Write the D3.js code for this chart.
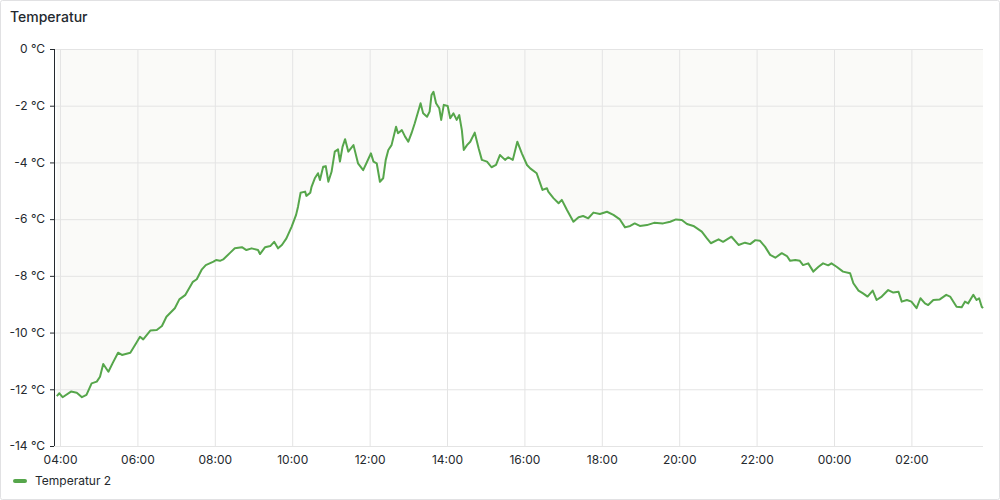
<!DOCTYPE html>
<html>
<head>
<meta charset="utf-8">
<script src="https://cdn.jsdelivr.net/npm/d3@7"></script>
<style>
  html, body { margin: 0; padding: 0; background: #fff; }
  svg { display: block; font-family: Inter, "Noto Sans", sans-serif; }
</style>
</head>
<body>
<svg id="chart" width="1000" height="500"></svg>
<script>
const title = "Temperatur";
const seriesName = "Temperatur 2";
const yTicks = [0, -2, -4, -6, -8, -10, -12, -14];
const xTickLabels = ["04:00","06:00","08:00","10:00","12:00","14:00","16:00","18:00","20:00","22:00","00:00","02:00"];
const times = [
 "03:55","03:59","04:04","04:17","04:26","04:34","04:41","04:49","04:57","05:02","05:07","05:15","05:22","05:30","05:36","05:49","05:58",
 "06:04","06:09","06:20","06:30","06:38","06:45","06:58","07:05","07:14","07:26","07:32","07:40","07:46","07:58","08:02","08:08",
 "08:13","08:24","08:31","08:42","08:49","08:57","09:07","09:10","09:18","09:26","09:32","09:38","09:44","09:51","09:59",
 "10:06","10:09","10:13","10:20","10:22","10:28","10:30","10:35","10:40","10:43","10:48","10:52","10:56","11:01","11:06","11:11","11:14","11:18","11:22","11:27","11:35","11:42","11:50","11:55",
 "12:02","12:06","12:11","12:16","12:21","12:25","12:29","12:34","12:41","12:44","12:50","12:55","13:00","13:05","13:10","13:16","13:19","13:23","13:29","13:33","13:36","13:39","13:43","13:48","13:51","13:55",
 "14:01","14:05","14:10","14:15","14:19","14:23","14:26","14:31","14:36","14:43","14:49","14:54","15:02","15:09","15:16","15:22","15:30","15:35","15:42","15:49","15:56",
 "16:04","16:09","16:19","16:28","16:35","16:37","16:45","16:53","16:58","17:06","17:16","17:24","17:31","17:39","17:47","17:57",
 "18:08","18:18","18:28","18:36","18:44","18:51","18:59","19:10","19:21","19:35","19:46","19:55","20:04","20:12","20:22","20:35","20:43","20:49",
 "21:01","21:08","21:21","21:32","21:42","21:50","21:58","22:05","22:13","22:21","22:29","22:39","22:47","22:52","23:00","23:07","23:12","23:20","23:28","23:36","23:43","23:51","23:56",
 "00:04","00:14","00:25","00:30","00:38","00:45","00:52","01:00","01:06","01:14","01:24","01:32","01:40","01:45","01:53","02:00","02:08","02:14","02:21","02:26","02:34","02:44","02:54",
 "03:00","03:10","03:18","03:23","03:28","03:36","03:41","03:45","03:49","03:51"
];
const temps = [
 -12.24,-12.14,-12.28,-12.08,-12.12,-12.28,-12.20,-11.79,-11.73,-11.56,-11.11,-11.38,-11.06,-10.71,-10.79,-10.71,-10.38,
 -10.15,-10.24,-9.93,-9.91,-9.77,-9.44,-9.14,-8.83,-8.68,-8.21,-8.12,-7.77,-7.62,-7.50,-7.44,-7.47,
 -7.42,-7.18,-7.03,-6.99,-7.09,-7.03,-7.09,-7.23,-6.99,-6.95,-6.80,-7.03,-6.91,-6.68,-6.27,
 -5.85,-5.56,-5.07,-5.03,-5.18,-5.07,-4.86,-4.56,-4.38,-4.62,-4.15,-4.13,-4.68,-4.33,-3.62,-3.54,-3.97,-3.45,-3.18,-3.62,-3.39,-4.03,-4.27,-4.03,
 -3.68,-3.97,-4.03,-4.68,-4.56,-3.91,-3.56,-3.39,-2.74,-2.97,-2.86,-3.09,-3.27,-2.97,-2.62,-2.15,-1.91,-2.27,-2.39,-2.21,-1.62,-1.51,-1.91,-2.09,-2.50,-1.97,
 -2.01,-2.44,-2.27,-2.50,-2.33,-2.86,-3.56,-3.39,-3.27,-2.95,-3.50,-3.91,-3.97,-4.17,-4.09,-3.74,-3.91,-3.82,-3.91,-3.27,-3.68,
 -4.09,-4.21,-4.38,-4.97,-4.91,-5.03,-5.26,-5.44,-5.32,-5.68,-6.09,-5.93,-5.89,-5.97,-5.77,-5.82,
 -5.74,-5.85,-6.01,-6.29,-6.24,-6.15,-6.24,-6.21,-6.13,-6.15,-6.09,-6.01,-6.03,-6.17,-6.24,-6.44,-6.68,-6.85,
 -6.71,-6.80,-6.62,-6.91,-6.83,-6.88,-6.74,-6.76,-6.97,-7.26,-7.36,-7.20,-7.30,-7.47,-7.44,-7.47,-7.62,-7.56,-7.85,-7.68,-7.56,-7.63,-7.56,
 -7.68,-7.85,-7.91,-8.26,-8.52,-8.62,-8.73,-8.52,-8.85,-8.73,-8.50,-8.59,-8.56,-8.91,-8.85,-8.91,-9.14,-8.79,-8.97,-9.03,-8.85,-8.83,-8.67,
 -8.73,-9.09,-9.11,-8.91,-8.97,-8.67,-8.85,-8.79,-9.09,-9.14
];
const domainStart = "03:50:40";
const domainEnd = "03:51:00";

(function () {
function toDate(hhmm, day) {
  const p = hhmm.split(":").map(Number);
  return new Date(2024, 0, 1 + day, p[0], p[1], p[2] || 0);
}
let day = 0, prev = -1;
const data = times.map((t, i) => {
  const p = t.split(":").map(Number);
  const m = p[0] * 60 + p[1];
  if (prev >= 0 && m < prev) day++;
  prev = m;
  return { t: toDate(t, day), v: temps[i] };
});

const svg = d3.select("#chart");
const W = 1000, H = 500;
const mL = 54, mR = 983, mT = 49, mB = 446;

svg.append("rect").attr("x", 0.5).attr("y", 0.5).attr("width", W - 1).attr("height", H - 1)
  .attr("rx", 2).attr("fill", "#fff").attr("stroke", "#e1e1e3");

svg.append("text").attr("x", 10).attr("y", 22).text(title)
  .attr("font-size", 14).attr("font-weight", 500).attr("fill", "#24292e");

const x = d3.scaleTime().domain([toDate(domainStart, 0), toDate(domainEnd, 1)]).range([mL, mR]);
const y = d3.scaleLinear().domain([-14, 0]).range([mB, mT]);

const area = d3.area().x(d => x(d.t)).y0(y(0)).y1(d => y(d.v));
svg.append("path").datum(data).attr("d", area).attr("fill", "#fafaf8");

let xd = 0, xp = -1;
const xTickDates = xTickLabels.map(l => {
  const h = +l.split(":")[0];
  if (xp >= 0 && h < xp) xd++;
  xp = h;
  return toDate(l, xd);
});

const gx = svg.append("g").attr("transform", `translate(0,${mB})`)
  .call(d3.axisBottom(x).tickValues(xTickDates).tickSize(-(mB - mT)).tickFormat((d, i) => xTickLabels[i]).tickPadding(9));
gx.select(".domain").remove();
gx.selectAll(".tick line").attr("stroke", "#e4e4e4");
gx.selectAll(".tick text").attr("font-size", 12).attr("fill", "#24292e").attr("font-family", "Inter, sans-serif").attr("y", 9);

const gy = svg.append("g").attr("transform", `translate(${mL},0)`)
  .call(d3.axisLeft(y).tickValues(yTicks).tickSize(0).tickFormat(d => d + " °C").tickPadding(9));
gy.select(".domain").remove();
gy.selectAll(".tick text").attr("font-size", 12).attr("fill", "#24292e").attr("font-family", "Inter, sans-serif");
gy.selectAll(".tick").append("line").attr("x1", 0).attr("x2", mR - mL).attr("stroke", "#e4e4e4");
gy.selectAll(".tick").append("line").attr("x1", -4).attr("x2", 0).attr("stroke", "#24292e");
svg.append("line").attr("x1", mL + 0.5).attr("x2", mL + 0.5).attr("y1", mT).attr("y2", mB)
  .attr("stroke", "#24292e").attr("stroke-width", 1);

const line = d3.line().x(d => x(d.t)).y(d => y(d.v));
svg.append("path").datum(data).attr("d", line).attr("fill", "none")
  .attr("stroke", "#56a64b").attr("stroke-width", 2).attr("stroke-linejoin", "round");

svg.append("line").attr("x1", 15).attr("x2", 25).attr("y1", 481).attr("y2", 481)
  .attr("stroke", "#56a64b").attr("stroke-width", 4).attr("stroke-linecap", "round");
svg.append("text").attr("x", 35).attr("y", 481).attr("dy", "0.35em").text(seriesName)
  .attr("font-size", 12).attr("fill", "#24292e");
})();
</script>
</body>
</html>
